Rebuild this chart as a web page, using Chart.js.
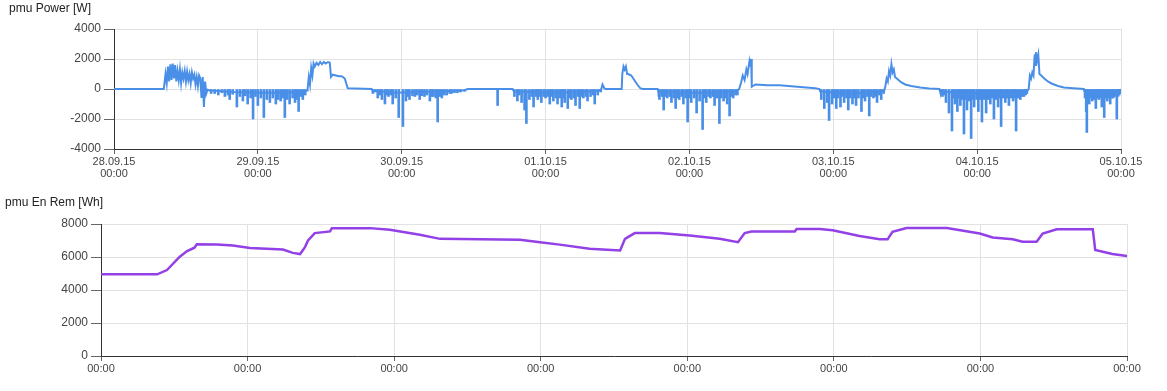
<!DOCTYPE html>
<html>
<head>
<meta charset="utf-8">
<script src="https://cdn.jsdelivr.net/npm/chart.js@4.4.0/dist/chart.umd.min.js"></script>
<style>
  body { margin: 0; background: #fff; width: 1167px; height: 391px; overflow: hidden; position: relative;
         font-family: Arial, "Liberation Sans", sans-serif; }
  .title { position: absolute; font-size: 12px; color: #222; z-index: 2; }
  #powerChart { position: absolute; left: 0; top: 0; }
  #energyChart { position: absolute; left: 0; top: 190px; }
</style>
</head>
<body>
<canvas id="powerChart" width="1167" height="186"></canvas>
<canvas id="energyChart" width="1167" height="201"></canvas>
<div class="title" style="left:9px; top:1px;">pmu Power [W]</div>
<div class="title" style="left:5px; top:195px;">pmu En Rem [Wh]</div>
<script>
// Подписи оси X (полночь каждого дня)
const dayLabels = ['28.09.15', '29.09.15', '30.09.15', '01.10.15', '02.10.15', '03.10.15', '04.10.15', '05.10.15'];
const hourLabel = '00:00';

// Мощность: основная линия (часы от 28.09.15 00:00, Вт)
const powerHours = [
  0, 8.3,
  8.4, 8.6, 8.8, 9.0, 9.2, 9.4, 9.6, 9.8, 10.0, 10.2, 10.4, 10.6, 10.8, 11.0, 11.2, 11.4, 11.6, 11.8, 12.0, 12.2,
  12.4, 12.6, 12.8, 13.0, 13.2, 13.4, 13.6, 13.8, 14.0, 14.2, 14.4, 14.6, 14.8, 15.0, 15.2, 15.4, 15.6,
  16, 20, 24, 28, 31, 32.2,
  32.3, 32.5, 32.7, 32.9, 33.1, 33.3, 33.5, 33.8, 34.1, 34.4, 34.7, 35, 35.3, 35.7, 36, 36.2, 36.5, 37, 37.5, 38, 38.5, 38.8, 39,
  43, 43.1, 47, 51, 55, 58.5, 59,
  64, 66.5, 66.7, 72, 78, 81, 81.3, 81.5, 81.8, 82,
  84.7, 84.8, 85.0, 85.2, 85.4, 85.6, 85.8, 86.3, 86.8, 87.3, 87.8, 88.2,
  90.7, 90.8, 95, 100, 104, 104.3, 104.6, 104.9, 105.2, 105.5, 105.7, 106.0, 106.1, 106.3, 106.4, 107, 109, 111, 113, 115, 117, 117.7,
  117.8, 122, 126, 128.5, 128.7, 128.9, 129.1, 129.3, 129.5, 129.7, 129.9, 130.1, 130.3, 130.6, 131.3, 132, 133, 134.5, 136, 137.7,
  137.8, 142, 146, 150, 152.4, 152.6, 152.8, 153.0, 153.2, 153.4, 153.6, 153.7, 153.8, 154.0, 154.2, 154.4, 154.7, 155.2, 155.8,
  156.5, 157.5, 158.5, 160, 161.8,
  161.9, 165, 167.8, 168
];
const powerWatts = [
  0, 0,
  300, 1000, 400, 1500, 500, 1650, 600, 1700, 700, 1600, 500, 1200, 600, 1300, 400, 1100, 700, 1200, 500, 1150,
  600, 1000, 400, 1100, 700, 950, 300, 800, 200, 900, 700, -600, 800, -1200, 500, -300, -50,
  -100, -200, -250, -250, -200, -100,
  0, 800, 300, 1400, 900, 1700, 1500, 1750, 1600, 1800, 1650, 1800, 1700, 1800, 1750, 800, 950, 900, 850, 850, 700, 300, 50,
  0, -100, -250, -200, -150, -80, 0,
  0, 0, -150, -250, -200, -100, 0, 300, 50, 0,
  0, 1000, 1500, 1300, 1500, 1000, 1000, 900, 600, 300, 50, 0,
  0, -150, -250, -250, -100, 0, 400, 900, 600, 1300, 1000, 1800, 1500, 2000, 150, 300, 250, 250, 180, 120, 50, 0,
  -150, -300, -250, -100, 200, 700, 500, 1200, 900, 1650, 1100, 1300, 800, 700, 450, 300, 200, 100, 30, 0,
  -150, -300, -300, -200, -100, 0, 900, 700, 1100, 900, 2300, 1600, 2450, 1900, 2300, 1000, 900, 700, 500,
  350, 200, 100, 50, 0,
  -150, -300, -200, 0
];

// Мощность: отрицательные пики (часы, Вт)
const spikeHours = [
  16.2, 16.8, 17.4, 18.0, 18.5, 19.0, 19.3, 19.8, 20.5, 21.0, 21.5, 21.9, 22.3, 22.8, 23.2, 23.6, 24.0, 24.5, 25.0, 25.5,
  26.0, 26.5, 27.0, 27.4, 27.8, 28.2, 28.5, 28.9, 29.3, 29.8, 30.2, 30.5, 30.8, 31.2, 31.5, 31.9,
  43.2, 43.6, 44.0, 44.4, 44.7, 45.2, 45.5, 45.8, 46.2, 46.5, 47.0, 47.5, 48.2, 48.7, 49.0, 49.3, 49.8, 50.2, 50.6, 51.0,
  51.4, 51.8, 52.2, 52.7, 53.0, 53.3, 53.7, 54.0, 54.4, 54.7, 55.1, 55.5, 56.0, 56.3, 56.8, 57.3, 57.8, 58.5,
  64.0,
  66.8, 67.3, 67.6, 68.0, 68.5, 68.8, 69.3, 69.7, 70.0, 70.4, 70.7, 71.0, 71.3, 71.7, 72.0, 72.4, 72.7, 73.0, 73.3, 73.7,
  74.0, 74.4, 74.7, 75.0, 75.2, 75.7, 76.0, 76.3, 76.7, 77.0, 77.4, 77.7, 78.0, 78.3, 78.7, 79.0, 79.5, 79.9, 80.2, 80.7, 81.2,
  90.9, 91.0, 91.4, 91.7, 92.0, 92.3, 92.7, 93.0, 93.4, 93.7, 94.0, 94.3, 94.7, 95.0, 95.4, 95.7, 96.0, 96.3, 96.8, 97.2,
  97.7, 98.2, 98.5, 98.8, 99.2, 99.5, 99.9, 100.2, 100.6, 101.0, 101.3, 101.7, 102.0, 102.3, 102.7, 103.0, 103.3, 103.7, 104.0,
  118.0, 118.5, 119.0, 119.3, 119.8, 120.1, 120.5, 120.8, 121.2, 121.5, 121.8, 122.2, 122.5, 122.8, 123.2, 123.5, 123.8, 124.2,
  124.7, 125.0, 125.3, 125.7, 126.0, 126.3, 126.7, 127.0, 127.3, 127.7, 128.0, 128.4,
  138.0, 138.2, 138.5, 138.8, 139.3, 139.8, 140.0, 140.3, 140.7, 141.0, 141.2, 141.5, 141.8, 142.0, 142.3, 142.7, 143.0, 143.3,
  143.5, 143.9, 144.2, 144.5, 144.8, 145.2, 145.5, 145.8, 146.2, 146.5, 146.8, 147.2, 147.5, 147.8, 148.0, 148.3, 148.7, 149.0,
  149.3, 149.7, 150.0, 150.2, 150.5, 150.8, 151.2, 151.5, 151.8, 152.1, 152.3,
  162.0, 162.2, 162.3, 162.5, 162.7, 163.0, 163.2, 163.5, 163.8, 164.0, 164.3, 164.5, 164.8, 165.0, 165.2, 165.4, 165.7, 166.0,
  166.2, 166.5, 166.7, 167.0, 167.3, 167.5, 167.7, 167.9
];
const spikeWatts = [
  -300, -300, -400, -250, -500, -400, -700, -350, -1200, -500, -800, -450, -1000, -600, -2000, -500, -1100, -600, -1900, -700,
  -900, -600, -1000, -700, -800, -600, -1900, -700, -1000, -600, -900, -700, -1500, -500, -700, -400,
  -300, -200, -600, -400, -700, -1000, -400, -500, -400, -1000, -600, -1900, -2500, -800, -500, -700, -450, -500, -400, -700,
  -450, -500, -400, -800, -500, -500, -600, -2200, -500, -600, -400, -400, -300, -300, -250, -250, -200, -150,
  -1100,
  -500, -800, -400, -900, -1400, -2300, -700, -500, -1200, -500, -700, -500, -900, -500, -600, -500, -1000, -500, -800, -600,
  -1000, -600, -1200, -600, -900, -1300, -600, -700, -600, -1100, -500, -1300, -500, -600, -500, -800, -500, -400, -1000, -400, -200,
  -500, -700, -500, -1400, -500, -600, -500, -900, -600, -1300, -600, -700, -500, -1000, -600, -2200, -600, -900, -600, -1600,
  -800, -2700, -600, -900, -500, -600, -500, -1100, -600, -2300, -600, -800, -600, -1000, -1800, -500, -600, -400, -400,
  -700, -1300, -900, -2100, -1000, -600, -1300, -600, -1200, -500, -900, -600, -1400, -600, -1000, -600, -1100, -600,
  -1500, -600, -800, -500, -1800, -500, -600, -500, -900, -400, -700, -300,
  -300, -500, -400, -900, -1600, -2800, -600, -1000, -1500, -600, -1100, -700, -3000, -700, -1400, -800, -3300, -700,
  -1200, -700, -1500, -700, -2200, -700, -1600, -700, -1000, -600, -2000, -700, -1200, -600, -2500, -600, -900, -600,
  -1100, -600, -800, -600, -2800, -600, -700, -500, -500, -400, -300,
  -600, -1500, -2900, -800, -1000, -600, -800, -700, -1300, -600, -700, -600, -1200, -700, -1900, -600, -800, -600,
  -1000, -600, -600, -500, -2000, -500, -400, -300
];

// Оставшаяся энергия (часы, Вт·ч)
const energyHours = [
  0, 9.2, 10.8, 12.9, 14.1, 15.1, 15.3, 15.7, 19, 21.6, 24.4, 29.8, 31.4, 32.6, 33.4, 33.9, 35, 37.5, 37.8, 44,
  47.3, 52.2, 55.5, 68.6, 71.9, 75.1, 80, 85, 85.8, 87.4, 91.5, 96.4, 101.3, 104.3, 105.4, 106.5, 113.6, 113.9, 117.7,
  119.8, 124.2, 127.5, 128.8, 129.6, 131.9, 138.5, 143.9, 146, 149.3, 150.9, 153.2, 154.2, 156.5, 162.4, 162.8, 165.6, 168
];
const energyWh = [
  4950, 4950, 5210, 6020, 6360, 6530, 6560, 6770, 6760, 6700, 6550, 6450, 6250, 6180, 6600, 7000, 7450, 7550, 7750, 7750,
  7650, 7350, 7100, 7050, 6900, 6750, 6500, 6400, 7100, 7450, 7450, 7300, 7100, 6900, 7450, 7550, 7550, 7700, 7700,
  7620, 7270, 7070, 7070, 7530, 7760, 7760, 7420, 7180, 7080, 6920, 6920, 7420, 7680, 7680, 6420, 6180, 6060
];

const BLUE = '#4a8fe7';
const PURPLE = '#9340e6';
const GRID = '#e2e2e2';

Chart.defaults.font.family = 'Arial, "Liberation Sans", sans-serif';
Chart.defaults.color = '#444';

function xAxis(height, twoLines) {
  return {
    type: 'linear', min: 0, max: 168, offset: false,
    ticks: {
      stepSize: 24, autoSkip: false, maxRotation: 0, padding: 2,
      font: { size: 11, lineHeight: 1.1 }, color: '#444',
      callback: v => twoLines ? [dayLabels[v / 24], hourLabel] : hourLabel
    },
    grid: { color: GRID, tickLength: 5, tickColor: '#666', offset: false },
    border: { color: '#333', width: 1 },
    afterFit: s => { s.height = height; }
  };
}

function yAxis(width, min, max) {
  return {
    min: min, max: max,
    ticks: { stepSize: 2000, padding: 3, font: { size: 12 }, color: '#444', callback: v => String(v) },
    grid: { color: GRID, tickLength: 10, tickColor: '#666' },
    border: { color: '#333', width: 1 },
    afterFit: s => { s.width = width; }
  };
}

// Верхний график: мощность
new Chart(document.getElementById('powerChart'), {
  type: 'line',
  data: {
    datasets: [
      {
        type: 'bar',
        data: spikeHours.map((h, i) => ({ x: h, y: spikeWatts[i] })),
        backgroundColor: BLUE,
        barThickness: 2
      },
      {
        type: 'line',
        data: powerHours.map((h, i) => ({ x: h, y: powerWatts[i] })),
        borderColor: BLUE,
        borderWidth: 2,
        pointRadius: 0,
        tension: 0
      }
    ]
  },
  options: {
    responsive: false,
    animation: false,
    layout: { padding: { top: 29, right: 46, left: 0, bottom: 0 } },
    plugins: { legend: { display: false }, tooltip: { enabled: false } },
    scales: { x: xAxis(37, true), y: yAxis(114, -4000, 4000) }
  }
});

// Нижний график: оставшаяся энергия
new Chart(document.getElementById('energyChart'), {
  type: 'line',
  data: {
    datasets: [{
      data: energyHours.map((h, i) => ({ x: h, y: energyWh[i] })),
      borderColor: PURPLE,
      borderWidth: 2.5,
      pointRadius: 0,
      tension: 0
    }]
  },
  options: {
    responsive: false,
    animation: false,
    layout: { padding: { top: 34, right: 40, left: 0, bottom: 0 } },
    plugins: { legend: { display: false }, tooltip: { enabled: false } },
    scales: { x: xAxis(35, false), y: yAxis(101, 0, 8000) }
  }
});
</script>
</body>
</html>
